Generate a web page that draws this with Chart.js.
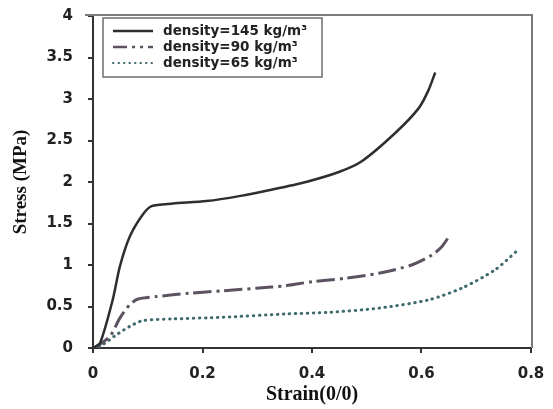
<!DOCTYPE html>
<html>
<head>
<meta charset="utf-8">
<script src="https://cdn.jsdelivr.net/npm/chart.js@4/dist/chart.umd.min.js"></script>
<style>
html,body{margin:0;padding:0;background:#fff;}
#wrap{width:553px;height:409px;}
</style>
</head>
<body>
<div id="wrap"><canvas id="c" width="553" height="409"></canvas></div>
<script>
const seriesLabels = ["density=145 kg/m\u00B3", "density=90 kg/m\u00B3", "density=65 kg/m\u00B3"];
const strain145 = [0, 0.013, 0.036, 0.049, 0.067, 0.09, 0.107, 0.146, 0.207, 0.267, 0.328, 0.389, 0.449, 0.491, 0.552, 0.595, 0.613, 0.625];
const stress145 = [0, 0.06, 0.58, 0.98, 1.34, 1.60, 1.71, 1.74, 1.77, 1.83, 1.91, 2.00, 2.12, 2.25, 2.59, 2.89, 3.11, 3.32];
const strain90 = [0, 0.007, 0.031, 0.049, 0.067, 0.082, 0.116, 0.176, 0.237, 0.298, 0.352, 0.401, 0.461, 0.522, 0.582, 0.619, 0.637, 0.652];
const stress90 = [0, 0.02, 0.14, 0.36, 0.52, 0.59, 0.62, 0.66, 0.69, 0.72, 0.75, 0.80, 0.84, 0.90, 1.00, 1.12, 1.22, 1.36];
const strain65 = [0, 0.013, 0.043, 0.067, 0.091, 0.146, 0.237, 0.352, 0.431, 0.522, 0.613, 0.673, 0.734, 0.776];
const stress65 = [0, 0.02, 0.16, 0.26, 0.33, 0.35, 0.37, 0.41, 0.43, 0.48, 0.58, 0.72, 0.94, 1.18];
const xTicks = [0, 0.2, 0.4, 0.6, 0.8];
const yTicks = [0, 0.5, 1, 1.5, 2, 2.5, 3, 3.5, 4];
const xTitle = "Strain(0/0)";
const yTitle = "Stress (MPa)";

function pts(xs, ys){ return xs.map((x,i)=>({x:x, y:ys[i]})); }

const frameAndLegend = {
  id:'frameAndLegend',
  afterDraw(chart){
    const ctx = chart.ctx, a = chart.chartArea;
    ctx.save();
    ctx.strokeStyle = '#7a7a7a';
    ctx.lineWidth = 2;
    ctx.beginPath();
    ctx.moveTo(a.left - 8, a.top - 1);
    ctx.lineTo(a.right + 1, a.top - 1);
    ctx.lineTo(a.right + 1, a.bottom);
    ctx.stroke();
    const bx = 103, by = 18, bw = 219, bh = 59;
    ctx.strokeStyle = '#6e6e6e';
    ctx.lineWidth = 1.5;
    ctx.strokeRect(bx, by, bw, bh);
    const rows = [31, 47, 63];
    chart.data.datasets.forEach((ds, i) => {
      const y = rows[i];
      ctx.strokeStyle = ds.borderColor;
      ctx.lineWidth = i === 2 ? 2 : 2.5;
      ctx.lineCap = i === 2 ? 'round' : 'butt';
      ctx.setLineDash(i === 0 ? [] : (i === 1 ? [14,5,3,5,3,5] : [0.5,5]));
      ctx.beginPath();
      ctx.moveTo(113, y);
      ctx.lineTo(153, y);
      ctx.stroke();
      ctx.setLineDash([]);
      ctx.lineCap = 'butt';
      ctx.fillStyle = '#222';
      ctx.font = 'bold 13.5px "DejaVu Sans"';
      ctx.textBaseline = 'middle';
      ctx.textAlign = 'left';
      ctx.fillText(ds.label, 163, y);
    });
    ctx.restore();
  }
};

const tickFont = {family:'"DejaVu Sans"', size:15, weight:'bold'};

new Chart(document.getElementById('c'), {
  type:'line',
  data:{
    datasets:[
      {label:seriesLabels[0], data:pts(strain145, stress145), borderColor:'#2e2e2e', borderWidth:2.5, pointRadius:0, tension:0.25, fill:false},
      {label:seriesLabels[1], data:pts(strain90, stress90), borderColor:'#5c5262', borderWidth:3, borderDash:[18,5,3,5], pointRadius:0, tension:0.25, fill:false},
      {label:seriesLabels[2], data:pts(strain65, stress65), borderColor:'#3f6a6c', borderWidth:3, borderDash:[0.5,5.5], borderCapStyle:'round', pointRadius:0, tension:0.25, fill:false}
    ]
  },
  options:{
    responsive:false,
    animation:false,
    devicePixelRatio:1,
    layout:{padding:{left:10, right:22, top:16, bottom:0}},
    plugins:{legend:{display:false}, tooltip:{enabled:false}},
    scales:{
      x:{
        type:'linear', min:0, max:0.8,
        afterBuildTicks(s){ s.ticks = xTicks.map(v=>({value:v})); },
        afterFit(s){ s.height = 61; s.paddingLeft = 0; s.paddingRight = 0; },
        grid:{drawOnChartArea:false, drawTicks:true, tickLength:5, color:'#333', lineWidth:2},
        border:{color:'#333', width:2},
        ticks:{font:tickFont, color:'#222', padding:12, callback:v=>String(v)},
        title:{display:true, text:xTitle, font:{family:'"Liberation Serif"', size:20, weight:'bold'}, color:'#111', padding:{top:0,bottom:2}}
      },
      y:{
        type:'linear', min:0, max:4,
        afterBuildTicks(s){ s.ticks = yTicks.map(v=>({value:v})); },
        afterFit(s){ s.width = 83; s.paddingTop = 0; s.paddingBottom = 0; },
        grid:{drawOnChartArea:false, drawTicks:true, tickLength:5, color:'#333', lineWidth:2},
        border:{color:'#333', width:2},
        ticks:{font:tickFont, color:'#222', padding:15, callback:v=>String(v)},
        title:{display:true, text:yTitle, font:{family:'"Liberation Serif"', size:19, weight:'bold'}, color:'#111', padding:{top:0,bottom:4}}
      }
    }
  },
  plugins:[frameAndLegend]
});
</script>
</body>
</html>
